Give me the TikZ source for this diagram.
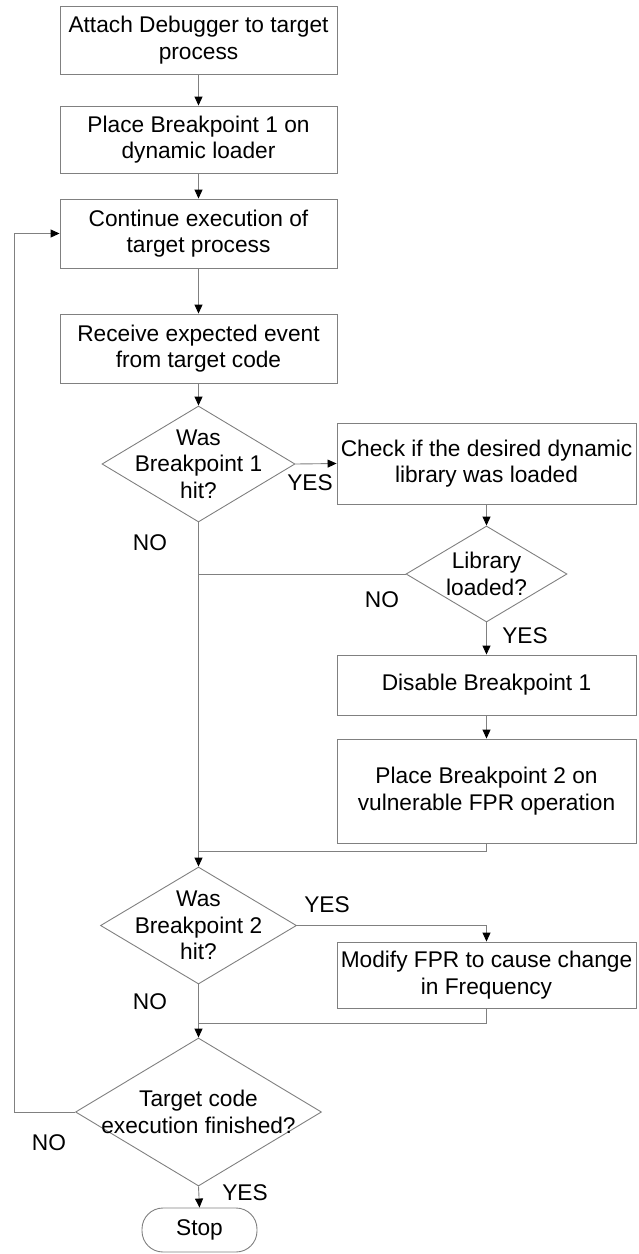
\documentclass[tikz,border=0pt]{standalone}
\usepackage{fontspec}
\setmainfont{Liberation Sans}
\usetikzlibrary{arrows.meta,shapes.geometric}
\definecolor{edge}{RGB}{128,128,128}
\begin{document}
\begin{tikzpicture}[x=1pt,y=-1pt,
  every node/.style={font=\fontsize{22.7pt}{26.5pt}\selectfont, text=black},
  stepbox/.style={draw=edge, line width=0.9pt, fill=white, rectangle, inner sep=0pt, align=center},
  decision/.style={draw=edge, line width=0.9pt, fill=white, diamond, inner sep=0pt},
  caption/.style={align=center, inner sep=0pt},
  terminal/.style={draw=edge, line width=0.9pt, fill=white, rectangle, rounded corners=21pt, inner sep=0pt, align=center},
  link/.style={draw=edge, line width=0.9pt},
  flow/.style={link, -{Triangle[length=9pt,width=8pt,color=black]}},
  tag/.style={inner sep=0pt}
]
\useasboundingbox (0,0) rectangle (638,1254);

% left column of steps
\node[stepbox, minimum width=277, minimum height=68] (attach) at (198.5,40) {Attach Debugger to target\\process};
\node[stepbox, minimum width=277, minimum height=67] (place1) at (198.5,139.5) {Place Breakpoint 1 on\\dynamic loader};
\node[stepbox, minimum width=277, minimum height=69] (cont) at (198.5,233.5) {Continue execution of\\target process};
\node[stepbox, minimum width=277, minimum height=69] (recv) at (198.5,348.5) {Receive expected event\\from target code};

% first decision and its right-hand branch
\node[decision, minimum width=193, minimum height=116] (bp1) at (198.5,464) {};
\node[caption] (bp1t) at (bp1) {Was\\Breakpoint 1\\hit?};
\node[stepbox, minimum width=299, minimum height=81] (check) at (486.5,463.5) {Check if the desired dynamic\\library was loaded};
\node[decision, minimum width=161, minimum height=96] (lib) at (486.5,574) {};
\node[caption] (libt) at (lib) {Library\\loaded?};
\node[stepbox, minimum width=299, minimum height=60] (disable) at (486.5,685) {Disable Breakpoint 1};
\node[stepbox, minimum width=299, minimum height=104] (place2) at (486.5,791) {Place Breakpoint 2 on\\vulnerable FPR operation};

% second decision
\node[decision, minimum width=196, minimum height=117] (bp2) at (198.5,925.5) {};
\node[caption] (bp2t) at (bp2) {Was\\Breakpoint 2\\hit?};
\node[stepbox, minimum width=299, minimum height=66] (modify) at (486.5,975) {Modify FPR to cause change\\in Frequency};

% final decision and end
\node[decision, minimum width=246, minimum height=148] (done) at (198.5,1112) {};
\node[caption] (donet) at (done) {Target code\\execution finished?};
\node[terminal, minimum width=115, minimum height=44] (stop) at (199.5,1230) {Stop};

% junction points
\coordinate (j1) at (198.5,851);
\coordinate (j2) at (198.5,1023);
\coordinate (back) at (14,1112);

% connectors
\draw[flow] (attach) -- (place1);
\draw[flow] (place1) -- (cont);
\draw[flow] (cont) -- (recv);
\draw[flow] (recv) -- (bp1.north);
\draw[flow] (bp1.east) -- (check.west);
\draw[flow] (check) -- (lib.north);
\draw[link] (lib.west) -- (lib.west -| bp1.south);
\draw[flow] (lib.south) -- (disable);
\draw[flow] (disable) -- (place2);
\draw[link] (place2.south) |- (j1);
\draw[flow] (bp1.south) -- (bp2.north);
\draw[flow] (bp2.east) -| (modify.north);
\draw[link] (modify.south) |- (j2);
\draw[flow] (bp2.south) -- (done.north);
\draw[flow] (done.south) -- (stop.north);
\draw[flow] (done.west) -- (back) |- (cont.west);

% branch labels
\node[tag] (y1) at (310,483) {YES};
\node[tag] (n1) at (150,543) {NO};
\node[tag] (n2) at (382,600) {NO};
\node[tag] (y2) at (525,636) {YES};
\node[tag] (y3) at (327,905) {YES};
\node[tag] (n3) at (150,1002) {NO};
\node[tag] (n4) at (49,1143) {NO};
\node[tag] (y4) at (245,1193) {YES};
\end{tikzpicture}
\end{document}
